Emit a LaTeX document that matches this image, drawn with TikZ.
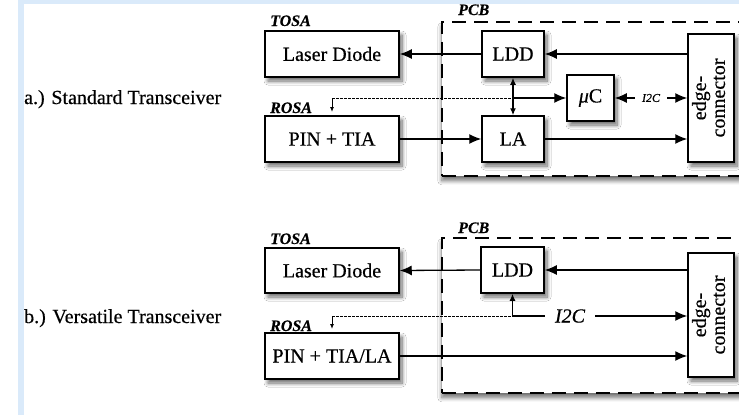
\documentclass[tikz,border=0pt]{standalone}
\usepackage{fontspec}
\usepackage{graphicx}
\setmainfont{Liberation Serif}[FakeBold=0.5]
\usetikzlibrary{arrows.meta,shadows.blur}
\definecolor{stripblue}{RGB}{218,234,250}
\tikzset{
  blk/.style={draw, line width=1.5pt, fill=white, inner sep=0pt,
    font=\fontsize{20}{22}\selectfont,
    blur shadow={shadow xshift=3pt, shadow yshift=-4pt, shadow blur steps=8, shadow blur radius=4pt, shadow opacity=60}},
  pcbbox/.style={draw, line width=1.6pt, dash pattern=on 14pt off 8pt, fill=white, inner sep=0pt,
    blur shadow={shadow xshift=0pt, shadow yshift=-5pt, shadow blur steps=8, shadow blur radius=4pt, shadow opacity=55}},
  grp/.style={font=\fontsize{16}{18}\selectfont\bfseries\itshape, inner sep=0pt, anchor=base west},
  side/.style={font=\fontsize{20}{22}\selectfont, inner sep=0pt, anchor=base west},
  arr/.style={line width=1.3pt, -{Latex[length=12pt,width=10pt]}},
  darr/.style={line width=1.3pt, {Latex[length=7pt,width=6pt]}-{Latex[length=7pt,width=6pt]}},
  smallarr/.style={line width=1.3pt, -{Latex[length=7pt,width=6pt]}},
  tinyarr/.style={line width=0.9pt, -{Latex[length=5pt,width=4pt]}},
  dots/.style={line width=1pt, dash pattern=on 2.5pt off 1.5pt},
  plain/.style={line width=1.3pt},
}
\begin{document}
\begin{tikzpicture}[x=1pt,y=-1pt]
\useasboundingbox (0,0) rectangle (739,415);
\fill[white] (0,0) rectangle (739,415);
\fill[stripblue] (18,0) rectangle (24,415);
\fill[stripblue] (18,0) rectangle (739,4);

% side labels
\node[side] (ta) at (24,104) {a.) Standard Transceiver};
\node[side] (tb) at (24,323) {b.) Versatile Transceiver};

% PCB regions
\begin{scope}
\clip (0,0) rectangle (739,415);
\node[pcbbox, minimum width=320pt, minimum height=154pt, anchor=north west] (pcb1) at (441,21) {};
\node[pcbbox, minimum width=320pt, minimum height=155pt, anchor=north west] (pcb2) at (441,237) {};
\end{scope}

% ---------- panel a ----------
\node[grp] (tosa1) at (270,26) {TOSA};
\node[grp] (rosa1) at (270,113) {ROSA};
\node[grp] (pcbl1) at (458,15) {PCB};

\node[blk, minimum width=134pt, minimum height=46pt] (ld1) at (332,54) {Laser Diode};
\node[blk, minimum width=134pt, minimum height=46pt] (pin1) at (332,139) {PIN + TIA};
\node[blk, minimum width=62pt, minimum height=46pt] (ldd1) at (513,54) {LDD};
\node[blk, minimum width=62pt, minimum height=46pt] (la1) at (513,139) {LA};
\node[blk, minimum width=47pt, minimum height=46pt] (mu) at (590.5,98) {{\itshape μ}C};
\node[blk, minimum width=46pt, minimum height=128pt] (edge1) at (711,98)
  {\rotatebox{90}{\begin{tabular}{@{}c@{}}edge-\\[-3pt]connector\end{tabular}}};
\node[font=\fontsize{12}{14}\selectfont\itshape, inner xsep=7pt, inner ysep=0pt] (i2c1) at (651,98) {I2C};

\draw[arr] (edge1.west |- ldd1.east) -- (ldd1.east);
\draw[arr] (ldd1.west) -- (ld1.east);
\draw[arr] (pin1.east) -- (la1.west);
\draw[arr] (la1.east) -- (edge1.west |- la1.east);
\draw[darr] (ldd1.south) -- (la1.north);
\coordinate (r1) at (332,98);
\coordinate (r1e) at (332,112);
\coordinate (j1) at (513,98);
\draw[dots] (r1) -- (j1);
\draw[arr] (j1) -- (mu.west);
\draw[tinyarr] (r1) -- (r1e);
\draw[arr] (i2c1.west) -- (mu.east);
\draw[arr] (i2c1.east) -- (edge1.west |- i2c1.east);

% ---------- panel b ----------
\node[grp] (tosa2) at (270,244) {TOSA};
\node[grp] (rosa2) at (270,331) {ROSA};
\node[grp] (pcbl2) at (458,233) {PCB};

\node[blk, minimum width=134pt, minimum height=45pt] (ld2) at (332,270.5) {Laser Diode};
\node[blk, minimum width=134pt, minimum height=46pt] (pin2) at (332,356) {PIN + TIA/LA};
\node[blk, minimum width=63pt, minimum height=46pt] (ldd2) at (512.5,270) {LDD};
\node[blk, minimum width=46pt, minimum height=124pt] (edge2) at (711,315)
  {\rotatebox{90}{\begin{tabular}{@{}c@{}}edge-\\[-3pt]connector\end{tabular}}};
\node[font=\fontsize{20}{22}\selectfont\itshape, inner xsep=10pt, inner ysep=0pt] (i2c2) at (570,316) {I2C};

\draw[arr] (edge2.west |- ldd2.east) -- (ldd2.east);
\draw[arr] (ldd2.west) -- (ld2.east);
\draw[arr] (pin2.east) -- (edge2.west |- pin2.east);
\coordinate (r2) at (332,316);
\coordinate (r2e) at (332,329);
\coordinate (j2) at (512.5,316);
\draw[dots] (r2) -- (j2);
\draw[plain] (j2) -- (i2c2.west);
\draw[smallarr] (j2) -- (ldd2.south);
\draw[tinyarr] (r2) -- (r2e);
\draw[arr] (i2c2.east) -- (edge2.west |- i2c2.east);
\end{tikzpicture}
\end{document}
